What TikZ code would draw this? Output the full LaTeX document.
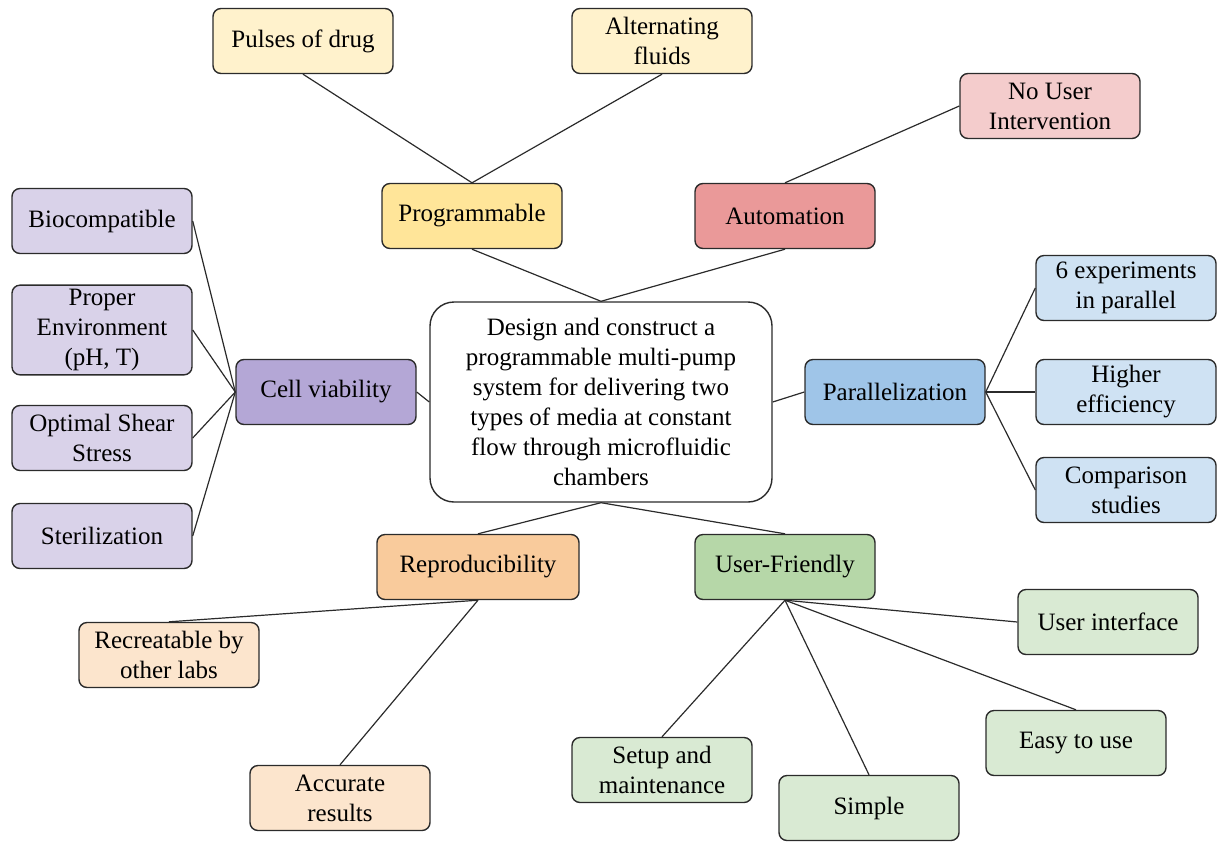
\documentclass[tikz,border=0pt]{standalone}
\usepackage{fontspec}
\setmainfont{LiberationSerif}[Extension=.ttf, UprightFont=*-Regular, BoldFont=*-Bold]
\usetikzlibrary{positioning}
\definecolor{linegray}{HTML}{2B2B2B}
\definecolor{progdark}{HTML}{FFE599}
\definecolor{proglight}{HTML}{FFF2CC}
\definecolor{autodark}{HTML}{EA9999}
\definecolor{autolight}{HTML}{F4CCCC}
\definecolor{celldark}{HTML}{B4A7D6}
\definecolor{celllight}{HTML}{D9D2E9}
\definecolor{pardark}{HTML}{9FC5E8}
\definecolor{parlight}{HTML}{CFE2F3}
\definecolor{repdark}{HTML}{F9CB9C}
\definecolor{replight}{HTML}{FCE5CD}
\definecolor{userdark}{HTML}{B6D7A8}
\definecolor{userlight}{HTML}{D9EAD3}

\begin{document}
\begin{tikzpicture}[
    x=0.5pt, y=-0.5pt,
    font=\fontsize{12.5}{15}\selectfont,
    goal/.style={rectangle, rounded corners=12pt, draw=linegray, fill=white, minimum width=171pt, minimum height=100pt, align=center, line width=0.7pt},
    topic/.style={rectangle, rounded corners=4pt, draw=linegray, minimum width=90pt, minimum height=32.5pt, align=center, line width=0.7pt, inner sep=2pt},
    link/.style={line width=0.6pt, draw=linegray}
]
    \useasboundingbox (0,0) rectangle (1224,841);

    % Central goal
    \node[goal] (goal) at (601,402) {Design and construct a\\programmable multi-pump\\system for delivering two\\types of media at constant\\flow through microfluidic\\chambers};

    % Programmable
    \node[topic, fill=progdark] (prog) at (472,216) {Programmable};
    \node[topic, fill=proglight] (pulses) at (303,41) {Pulses of drug};
    \node[topic, fill=proglight] (alter) at (662,41) {Alternating\\fluids};

    % Automation
    \node[topic, fill=autodark] (auto) at (785,216) {Automation};
    \node[topic, fill=autolight] (nouser) at (1050,106) {No User\\Intervention};

    % Cell viability
    \node[topic, fill=celldark] (cell) at (326,392) {Cell viability};
    \node[topic, fill=celllight] (biocomp) at (102,221) {Biocompatible};
    \node[topic, fill=celllight, minimum height=43pt] (environ) at (102,330) {Proper\\Environment\\(pH, T)};
    \node[topic, fill=celllight] (shear) at (102,438) {Optimal Shear\\Stress};
    \node[topic, fill=celllight] (steril) at (102,536) {Sterilization};

    % Parallelization
    \node[topic, fill=pardark] (para) at (895,392) {Parallelization};
    \node[topic, fill=parlight] (sixexp) at (1126,288) {6 experiments\\in parallel};
    \node[topic, fill=parlight] (effic) at (1126,392) {Higher\\efficiency};
    \node[topic, fill=parlight] (compar) at (1126,490) {Comparison\\studies};

    % Reproducibility
    \node[topic, fill=repdark, minimum width=101pt] (repro) at (478,567) {Reproducibility};
    \node[topic, fill=replight] (recreat) at (169,655) {Recreatable by\\other labs};
    \node[topic, fill=replight] (accur) at (340,798) {Accurate\\results};

    % User-Friendly
    \node[topic, fill=userdark] (user) at (785,567) {User-Friendly};
    \node[topic, fill=userlight] (uiface) at (1108,622) {User interface};
    \node[topic, fill=userlight] (easy) at (1076,743) {Easy to use};
    \node[topic, fill=userlight] (setup) at (662,770) {Setup and\\maintenance};
    \node[topic, fill=userlight] (simple) at (869,808) {Simple};

    % Links
    \draw[link] (prog.south) -- (goal.north);
    \draw[link] (auto.south) -- (goal.north);
    \draw[link] (cell.east) -- (goal.west);
    \draw[link] (para.west) -- (goal.east);
    \draw[link] (repro.north) -- (goal.south);
    \draw[link] (user.north) -- (goal.south);

    \draw[link] (prog.north) -- (pulses.south);
    \draw[link] (prog.north) -- (alter.south);
    \draw[link] (auto.north) -- (nouser.west);

    \draw[link] (cell.west) -- (biocomp.east);
    \draw[link] (cell.west) -- (environ.east);
    \draw[link] (cell.west) -- (shear.east);
    \draw[link] (cell.west) -- (steril.east);

    \draw[link] (para.east) -- (sixexp.west);
    \draw[link] (para.east) -- (effic.west);
    \draw[link] (para.east) -- (compar.west);

    \draw[link] (repro.south) -- (recreat.north);
    \draw[link] (repro.south) -- (accur.north);

    \draw[link] (user.south) -- (uiface.west);
    \draw[link] (user.south) -- (easy.north);
    \draw[link] (user.south) -- (setup.north);
    \draw[link] (user.south) -- (simple.north);

\end{tikzpicture}
\end{document}
